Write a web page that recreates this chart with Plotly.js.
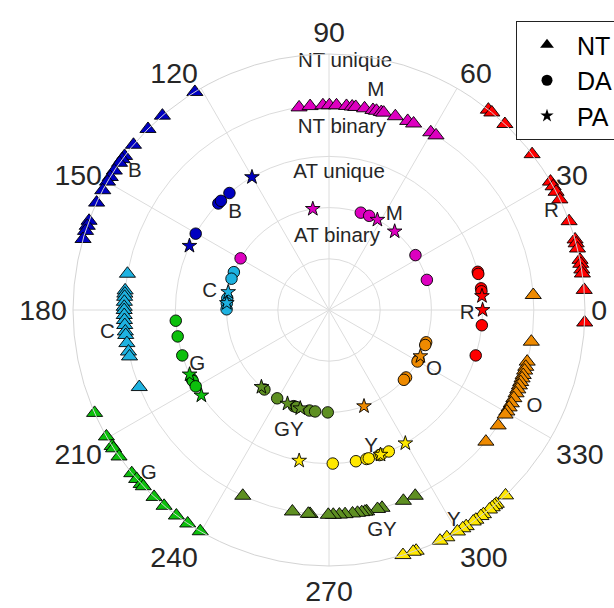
<!DOCTYPE html>
<html>
<head>
<meta charset="utf-8">
<script src="https://cdn.plot.ly/plotly-3.0.1.min.js"></script>
<style>html,body{margin:0;padding:0;background:#fff;}#chart{width:614px;height:608px;}</style>
</head>
<body>
<div id="chart"></div>
<script>
// Ring radii (radial position of each category of points)
const RING_NT_UNIQUE = 5, RING_NT_BINARY = 4, RING_AT_UNIQUE = 3, RING_AT_BINARY = 2;

// Angles (degrees)
const R_NT = [51.5, 50.5, 46.6, 37.5, 30.1, 28.9, 27.5, 25.6, 20.3, 16.0, 15.1, 13.9, 11.3, 10.4, 9.1, 8.2, 4.5, -2.8];
const R_DA = [14.4, 13.6, 8.1, 7.0, -5.7, -17.2];
const R_PA = [5.2, 0.0];

const O_NT = [4.2, -8.9, -14.6, -16.1, -17.2, -18.5, -19.5, -20.6, -21.6, -22.8, -24.0, -25.5, -27.1, -28.4, -29.7, -30.7, -34.3, -40.0];
const O_DA = [-18.4, -20.0, -29.0, -30.2, -41.2, -43.0];
const O_PA = [-26.8, -70.0];

const Y_NT = [-46.4, -49.2, -49.7, -50.4, -51.2, -52.9, -53.6, -55.0, -55.7, -57.6, -58.5, -59.9, -62.6, -64.3, -70.1, -70.8, -73.2];
const Y_DA = [-88.6, -79.9, -75.9, -75.0, -70.8, -70.1, -67.1];
const Y_PA = [-60.2, -101.2, -70.4];

const GY_NT = [-65.1, -68.7, -75.0, -76.3, -79.4, -79.9, -80.8, -82.0, -83.4, -85.5, -87.1, -88.8, -90.2, -95.3, -95.8, -100.3, -114.9];
const GY_DA = [-129.1, -120.4, -110.1, -108.4, -101.0, -97.8, -90.7];
const GY_PA = [-131.3, -113.9, -106.3];

const G_NT = [203.7, 209.6, 212.1, 212.7, 214.9, 219.6, 221.3, 222.8, 223.5, 226.9, 229.9, 233.4, 236.5, 239.8];
const G_DA = [184.0, 189.9, 197.2, 206.7, 207.5, 209.8];
const G_PA = [204.8, 213.8];

const C_NT = [169.8, 174.5, 175.4, 176.3, 177.7, 179.1, 180.0, 181.4, 182.8, 184.2, 186.0, 187.0, 189.3, 191.7, 193.1, 202.1];
const C_DA = [158.3, 162.2, 173.5, 176.3, 179.6];
const C_PA = [169.9, 176.1];

const B_NT = [121.6, 130.6, 135.0, 139.8, 143.0, 143.9, 144.9, 147.0, 148.7, 149.9, 152.1, 155.2, 159.6, 160.8, 162.0, 163.9];
const B_DA = [136.1, 134.7, 130.4, 150.2];
const B_PA = [120.1, 155.3];

const M_NT = [98.4, 95.3, 91.7, 89.9, 87.9, 85.1, 83.5, 82.5, 80.0, 77.6, 76.6, 75.2, 74.5, 71.1, 67.4, 65.6, 60.2, 58.5];
const M_DA = [71.9, 66.9, 32.4, 17.1, 149.7];
const M_PA = [99.1, 61.8, 50.1];

// Angular tick labels
const THETA_TICKS = [0, 30, 60, 90, 120, 150, 180, 210, 240, 270, 300, 330];
const THETA_TICK_TEXT = ["0", "30", "60", "90", "120", "150", "180", "210", "240", "270", "300", "330"];

// Group labels: [text, angle, radius]
const GROUP_LABELS_OUTER = ["M", "R", "O", "Y", "GY", "G", "C", "B"];
const GROUP_LABELS_OUTER_THETA = [77.9, 23.9, -25.3, -59.4, -76.5, 222.3, 185.9, 144.6];
const GROUP_LABELS_OUTER_R = [4.37, 4.75, 4.44, 4.79, 4.43, 4.76, 4.35, 4.65];
const GROUP_LABELS_INNER = ["M", "R", "O", "Y", "GY", "G", "C", "B"];
const GROUP_LABELS_INNER_THETA = [55.7, -1.4, -29.7, -72.9, 251.6, 202.6, 171.3, 134.0];
const GROUP_LABELS_INNER_R = [2.26, 2.7, 2.36, 2.79, 2.49, 2.79, 2.36, 2.64];

const RING_LABELS = ["NT unique", "NT binary", "AT unique", "AT binary"];
const RING_LABELS_THETA = [86.3, 85.9, 85.8, 83.7];
const RING_LABELS_R = [4.85, 3.56, 2.68, 1.43];

const LEGEND_NAMES = ["NT", "DA", "PA"];

// Style
const COLORS = {R:'#FF0000', O:'#EE8A00', Y:'#FFE800', GY:'#5E8F22', G:'#0CC00C', C:'#1EB2E0', B:'#0000C0', M:'#DD00C0'};
const groups = [
  {k:'R', nt:R_NT, da:R_DA, pa:R_PA, ntR:RING_NT_UNIQUE, atR:RING_AT_UNIQUE},
  {k:'O', nt:O_NT, da:O_DA, pa:O_PA, ntR:RING_NT_BINARY, atR:RING_AT_BINARY},
  {k:'Y', nt:Y_NT, da:Y_DA, pa:Y_PA, ntR:RING_NT_UNIQUE, atR:RING_AT_UNIQUE},
  {k:'GY', nt:GY_NT, da:GY_DA, pa:GY_PA, ntR:RING_NT_BINARY, atR:RING_AT_BINARY},
  {k:'G', nt:G_NT, da:G_DA, pa:G_PA, ntR:RING_NT_UNIQUE, atR:RING_AT_UNIQUE},
  {k:'C', nt:C_NT, da:C_DA, pa:C_PA, ntR:RING_NT_BINARY, atR:RING_AT_BINARY},
  {k:'B', nt:B_NT, da:B_DA, pa:B_PA, ntR:RING_NT_UNIQUE, atR:RING_AT_UNIQUE},
  {k:'M', nt:M_NT, da:M_DA, pa:M_PA, ntR:RING_NT_BINARY, atR:RING_AT_BINARY}
];

const FONT = 'Liberation Sans, Arial, Helvetica, sans-serif';
const TXT = '#262626';
const traces = [];
const ln = {color:'#000', width:0.9};
groups.forEach(g => {
  traces.push({type:'scatterpolar', mode:'markers', showlegend:false, hoverinfo:'skip',
    theta:g.nt, r:g.nt.map(()=>g.ntR),
    marker:{symbol:'triangle-up', size:14, color:COLORS[g.k], line:ln}});
  traces.push({type:'scatterpolar', mode:'markers', showlegend:false, hoverinfo:'skip',
    theta:g.da, r:g.da.map(()=>g.atR),
    marker:{symbol:'circle', size:11.5, color:COLORS[g.k], line:ln}});
  traces.push({type:'scatterpolar', mode:'markers', showlegend:false, hoverinfo:'skip',
    theta:g.pa, r:g.pa.map(()=>g.atR),
    marker:{symbol:'star', size:11, color:COLORS[g.k], line:ln}});
});

traces.push({type:'scatterpolar', mode:'text', showlegend:false, hoverinfo:'skip',
  theta:RING_LABELS_THETA, r:RING_LABELS_R, text:RING_LABELS,
  textfont:{family:FONT, size:20.5, color:TXT}});
traces.push({type:'scatterpolar', mode:'text', showlegend:false, hoverinfo:'skip',
  theta:GROUP_LABELS_OUTER_THETA, r:GROUP_LABELS_OUTER_R, text:GROUP_LABELS_OUTER,
  textfont:{family:FONT, size:20.5, color:TXT}});
traces.push({type:'scatterpolar', mode:'text', showlegend:false, hoverinfo:'skip',
  theta:GROUP_LABELS_INNER_THETA, r:GROUP_LABELS_INNER_R, text:GROUP_LABELS_INNER,
  textfont:{family:FONT, size:20.5, color:TXT}});

const legSymbols = ['triangle-up', 'circle', 'star'];
const legSizes = [12, 11, 10];
LEGEND_NAMES.forEach((n, i) => {
  traces.push({type:'scatterpolar', mode:'markers', name:n, showlegend:true,
    theta:[null], r:[null],
    marker:{symbol:legSymbols[i], size:legSizes[i], color:'#000'}});
});

const layout = {
  width:614, height:608,
  margin:{l:0, r:0, t:0, b:0, autoexpand:false},
  paper_bgcolor:'#fff',
  font:{family:FONT, color:TXT},
  showlegend:true,
  legend:{x:516/614, y:1-21/608, xanchor:'left', yanchor:'top',
    bgcolor:'#fff', bordercolor:'#222', borderwidth:1,
    font:{family:FONT, size:25, color:'#000'}, itemwidth:50, tracegroupgap:0},
  polar:{
    domain:{x:[73/614, 585/614], y:[42/608, 554/608]},
    bgcolor:'#fff',
    radialaxis:{range:[0,5], dtick:1, showticklabels:false, ticks:'', showline:false,
      gridcolor:'#dcdcdc', gridwidth:1},
    angularaxis:{rotation:0, direction:'counterclockwise',
      tickmode:'array', tickvals:THETA_TICKS, ticktext:THETA_TICK_TEXT,
      ticks:'', 
      tickfont:{family:FONT, size:28.5, color:TXT},
      gridcolor:'#dcdcdc', gridwidth:1, showline:true, linecolor:'#d4d4d4', linewidth:1}
  }
};

Plotly.newPlot('chart', traces, layout, {staticPlot:true});
</script>
</body>
</html>
